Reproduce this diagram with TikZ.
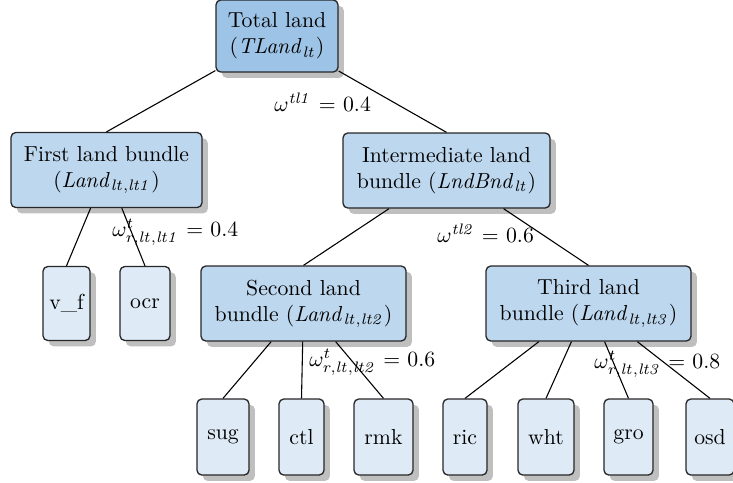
\documentclass[tikz,border=0pt]{standalone}
\usetikzlibrary{shadows}
\definecolor{ctop}{RGB}{157,195,230}
\definecolor{cmid}{RGB}{189,215,238}
\definecolor{cleaf}{RGB}{222,235,247}
\def\pxu{0.4604pt}
\tikzset{
  box/.style={draw=black!85, line width=0.6pt, rounded corners=2.2pt, align=center,
    inner sep=2pt, drop shadow={shadow xshift=2.7pt,shadow yshift=-2.7pt}},
  topbox/.style={box, fill=ctop},
  midbox/.style={box, fill=cmid, minimum height=75*\pxu},
  leafbox/.style={box, fill=cleaf, minimum height=76*\pxu},
  lbl/.style={anchor=base west, inner sep=0pt},
  conn/.style={draw=black, line width=0.5pt}
}
\begin{document}
\begin{tikzpicture}[x=0.4604pt, y=-0.4604pt]
\useasboundingbox (0,0) rectangle (733,482);
% upper boxes
\node[topbox, minimum width=122*\pxu, minimum height=72*\pxu] (tot) at (277,36)
  {Total land\\($\mathit{TLand}_{\mathit{lt}}$)};
\node[midbox, minimum width=191*\pxu] (fir) at (106.5,170)
  {First land bundle\\($\mathit{Land}_{\mathit{lt},\mathit{lt1}}$)};
\node[midbox, minimum width=207*\pxu] (int) at (446.5,170.5)
  {Intermediate land\\bundle ($\mathit{LndBnd}_{\mathit{lt}}$)};
\node[midbox, minimum width=205*\pxu] (sec) at (303.5,303.5)
  {Second land\\bundle ($\mathit{Land}_{\mathit{lt},\mathit{lt2}}$)};
\node[midbox, minimum width=205*\pxu] (thi) at (588.5,303.5)
  {Third land\\bundle ($\mathit{Land}_{\mathit{lt},\mathit{lt3}}$)};
% leaves
\node[leafbox, minimum width=47*\pxu, minimum height=74*\pxu] (vf) at (66.5,303.5) {v\_f};
\node[leafbox, minimum width=50*\pxu, minimum height=74*\pxu] (ocr) at (145,303.5) {ocr};
\node[leafbox, minimum width=52*\pxu] (sug) at (223,437) {sug};
\node[leafbox, minimum width=45*\pxu] (ctl) at (301.5,437) {ctl};
\node[leafbox, minimum width=59*\pxu] (rmk) at (383.5,437) {rmk};
\node[leafbox, minimum width=44*\pxu] (ric) at (465,437) {ric};
\node[leafbox, minimum width=56*\pxu] (wht) at (546,437) {wht};
\node[leafbox, minimum width=49*\pxu] (gro) at (628.5,437) {gro};
\node[leafbox, minimum width=48*\pxu] (osd) at (710,437) {osd};
% connectors
\draw[conn] (tot) -- (fir.north);
\draw[conn] (tot) -- (int.north);
\draw[conn] (fir) -- (vf.north);
\draw[conn] (fir) -- (ocr.north);
\draw[conn] (int) -- (sec.north);
\draw[conn] (int) -- (thi.north);
\draw[conn] (sec) -- (sug.north);
\draw[conn] (sec) -- (ctl.north);
\draw[conn] (sec) -- (rmk.north);
\draw[conn] (thi) -- (ric.north);
\draw[conn] (thi) -- (wht.north);
\draw[conn] (thi) -- (gro.north);
\draw[conn] (thi) -- (osd.north);
% labels
\node[lbl] (l1) at (274,111.5) {$\omega^{\mathit{tl1}}$ = 0.4};
\node[lbl] (l2) at (437,242.5) {$\omega^{\mathit{tl2}}$ = 0.6};
\node[lbl] (l3) at (112,236) {$\omega^{t}_{r,\mathit{lt},\mathit{lt1}}$ = 0.4};
\node[lbl] (l4) at (309,366) {$\omega^{t}_{r,\mathit{lt},\mathit{lt2}}$ = 0.6};
\node[lbl] (l5) at (594,368) {$\omega^{t}_{r,\mathit{lt},\mathit{lt3}}$ = 0.8};
\end{tikzpicture}
\end{document}
